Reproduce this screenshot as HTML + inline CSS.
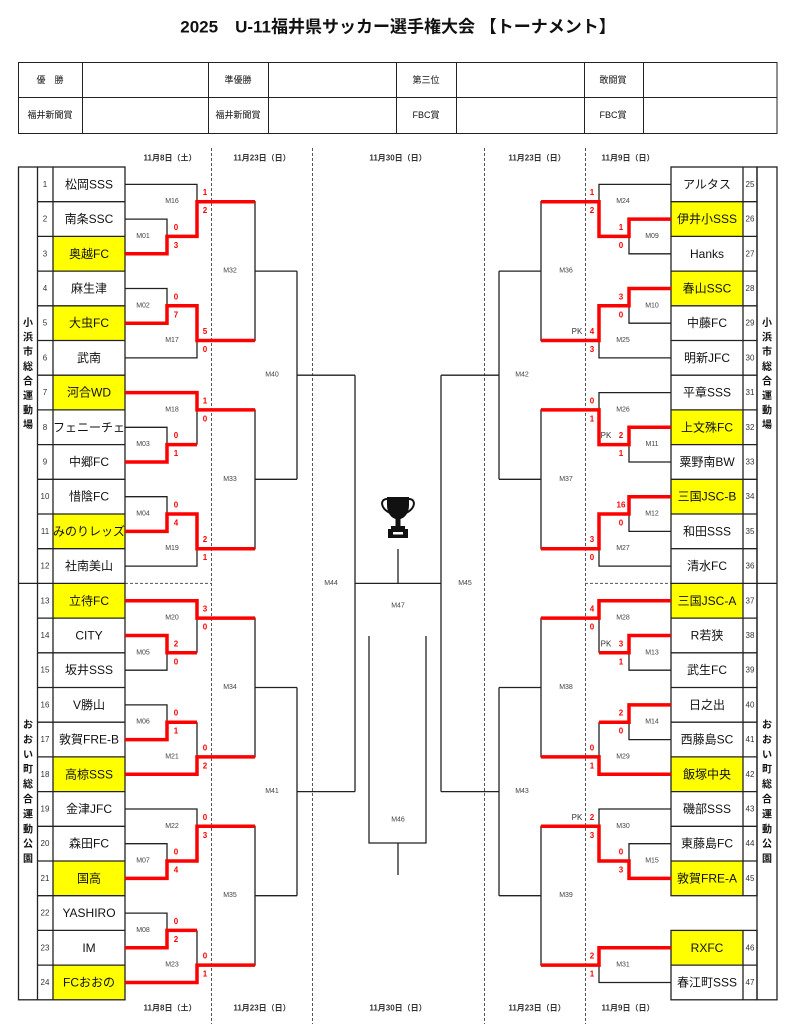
<!DOCTYPE html>
<html><head><meta charset="utf-8"><style>
html,body{margin:0;padding:0;background:#fff;}
svg{display:block;font-family:"Liberation Sans","Noto Sans CJK JP",sans-serif;}
.tm{font-size:12px;fill:#111;text-anchor:middle;dominant-baseline:central;}
.nu{font-size:8px;fill:#333;text-anchor:middle;dominant-baseline:central;}
.sc{font-size:8px;font-weight:bold;fill:#f00;text-anchor:middle;dominant-baseline:central;}
.pk{font-size:8px;fill:#333;text-anchor:middle;dominant-baseline:central;}
.ml{font-size:7px;fill:#444;text-anchor:middle;dominant-baseline:central;}
.dt{font-size:8px;font-weight:bold;fill:#333;text-anchor:middle;dominant-baseline:central;}
.lb{font-size:10px;font-weight:bold;fill:#111;text-anchor:middle;dominant-baseline:central;}
.hd{font-size:9px;fill:#111;text-anchor:middle;dominant-baseline:central;}
</style></head><body>
<svg width="790" height="1024" viewBox="0 0 790 1024" xmlns="http://www.w3.org/2000/svg">
<rect width="790" height="1024" fill="#fff"/>
<text x="398" y="27" font-size="17" font-weight="bold" text-anchor="middle" dominant-baseline="central" fill="#111">2025　U-11福井県サッカー選手権大会 【トーナメント】</text>

<g stroke="#222" stroke-width="1" fill="none">
<rect x="18.5" y="62.5" width="758.5" height="71"/>
<path d="M18.5 97.5H777 M82.5 62.5V133.5 M208.5 62.5V133.5 M268.5 62.5V133.5 M396.5 62.5V133.5 M456.5 62.5V133.5 M584.5 62.5V133.5 M643.5 62.5V133.5"/>
</g>
<text class="hd" x="50" y="80">優　勝</text><text class="hd" x="238" y="80">準優勝</text><text class="hd" x="426" y="80">第三位</text><text class="hd" x="613" y="80">敢闘賞</text>
<text class="hd" x="50" y="115">福井新聞賞</text><text class="hd" x="238" y="115">福井新聞賞</text><text class="hd" x="426" y="115">FBC賞</text><text class="hd" x="613" y="115">FBC賞</text>

<text class="dt" x="170" y="158">11月8日（土）</text><text class="dt" x="262" y="158">11月23日（日）</text><text class="dt" x="398" y="158">11月30日（日）</text><text class="dt" x="537" y="158">11月23日（日）</text><text class="dt" x="628" y="158">11月9日（日）</text>
<text class="dt" x="170" y="1008">11月8日（土）</text><text class="dt" x="262" y="1008">11月23日（日）</text><text class="dt" x="398" y="1008">11月30日（日）</text><text class="dt" x="537" y="1008">11月23日（日）</text><text class="dt" x="628" y="1008">11月9日（日）</text>

<g stroke="#555" stroke-width="1" stroke-dasharray="3,2" fill="none">
<path d="M211.5 148V1024 M312.5 148V1024 M484.5 148V1024 M585.5 148V1024 M125 583.4H211 M585 583.4H671"/>
</g>

<g fill="#ffff00">
<rect x="53" y="236.4" width="72" height="34.7"/><rect x="53" y="305.8" width="72" height="34.7"/><rect x="53" y="375.2" width="72" height="34.7"/><rect x="53" y="514" width="72" height="34.7"/><rect x="53" y="583.4" width="72" height="34.7"/><rect x="53" y="756.9" width="72" height="34.7"/><rect x="53" y="861" width="72" height="34.7"/><rect x="53" y="965.1" width="72" height="34.7"/>
<rect x="671" y="201.7" width="72" height="34.7"/><rect x="671" y="271.1" width="72" height="34.7"/><rect x="671" y="409.9" width="72" height="34.7"/><rect x="671" y="479.3" width="72" height="34.7"/><rect x="671" y="583.4" width="72" height="34.7"/><rect x="671" y="756.9" width="72" height="34.7"/><rect x="671" y="861" width="72" height="34.7"/><rect x="671" y="930.4" width="72" height="34.7"/>
</g>

<g stroke="#222" stroke-width="1.3" fill="none">
<rect x="18.5" y="167" width="106.5" height="832.8"/>
<path d="M37.5 167V999.8 M53 167V999.8 M18.5 583.4H125"/>
<path d="M37.5 201.7H125 M37.5 236.4H125 M37.5 271.1H125 M37.5 305.8H125 M37.5 340.5H125 M37.5 375.2H125 M37.5 409.9H125 M37.5 444.6H125 M37.5 479.3H125 M37.5 514H125 M37.5 548.7H125 M37.5 618.1H125 M37.5 652.8H125 M37.5 687.5H125 M37.5 722.2H125 M37.5 756.9H125 M37.5 791.6H125 M37.5 826.3H125 M37.5 861H125 M37.5 895.7H125 M37.5 930.4H125 M37.5 965.1H125"/>
<rect x="757" y="167" width="20" height="832.8"/>
<rect x="671" y="167" width="86" height="728.7"/>
<rect x="671" y="930.4" width="86" height="69.4"/>
<path d="M743 167V895.7 M743 930.4V999.8 M671 583.4H777"/>
<path d="M671 201.7H757 M671 236.4H757 M671 271.1H757 M671 305.8H757 M671 340.5H757 M671 375.2H757 M671 409.9H757 M671 444.6H757 M671 479.3H757 M671 514H757 M671 548.7H757 M671 618.1H757 M671 652.8H757 M671 687.5H757 M671 722.2H757 M671 756.9H757 M671 791.6H757 M671 826.3H757 M671 861H757 M671 965.1H757"/>
</g>

<text class="lb"><tspan x="28" y="323">小</tspan><tspan x="28" dy="14.6">浜</tspan><tspan x="28" dy="14.6">市</tspan><tspan x="28" dy="14.6">総</tspan><tspan x="28" dy="14.6">合</tspan><tspan x="28" dy="14.6">運</tspan><tspan x="28" dy="14.6">動</tspan><tspan x="28" dy="14.6">場</tspan></text>
<text class="lb"><tspan x="28" y="725">お</tspan><tspan x="28" dy="14.9">お</tspan><tspan x="28" dy="14.9">い</tspan><tspan x="28" dy="14.9">町</tspan><tspan x="28" dy="14.9">総</tspan><tspan x="28" dy="14.9">合</tspan><tspan x="28" dy="14.9">運</tspan><tspan x="28" dy="14.9">動</tspan><tspan x="28" dy="14.9">公</tspan><tspan x="28" dy="14.9">園</tspan></text>
<text class="lb"><tspan x="767" y="323">小</tspan><tspan x="767" dy="14.6">浜</tspan><tspan x="767" dy="14.6">市</tspan><tspan x="767" dy="14.6">総</tspan><tspan x="767" dy="14.6">合</tspan><tspan x="767" dy="14.6">運</tspan><tspan x="767" dy="14.6">動</tspan><tspan x="767" dy="14.6">場</tspan></text>
<text class="lb"><tspan x="767" y="725">お</tspan><tspan x="767" dy="14.9">お</tspan><tspan x="767" dy="14.9">い</tspan><tspan x="767" dy="14.9">町</tspan><tspan x="767" dy="14.9">総</tspan><tspan x="767" dy="14.9">合</tspan><tspan x="767" dy="14.9">運</tspan><tspan x="767" dy="14.9">動</tspan><tspan x="767" dy="14.9">公</tspan><tspan x="767" dy="14.9">園</tspan></text>

<text class="nu" x="45" y="184.4">1</text><text class="tm" x="89" y="184.4">松岡SSS</text>
<text class="nu" x="45" y="219.1">2</text><text class="tm" x="89" y="219.1">南条SSC</text>
<text class="nu" x="45" y="253.8">3</text><text class="tm" x="89" y="253.8">奥越FC</text>
<text class="nu" x="45" y="288.5">4</text><text class="tm" x="89" y="288.5">麻生津</text>
<text class="nu" x="45" y="323.2">5</text><text class="tm" x="89" y="323.2">大虫FC</text>
<text class="nu" x="45" y="357.9">6</text><text class="tm" x="89" y="357.9">武南</text>
<text class="nu" x="45" y="392.6">7</text><text class="tm" x="89" y="392.6">河合WD</text>
<text class="nu" x="45" y="427.3">8</text><text class="tm" x="89" y="427.3" font-size="10.5">フェニーチェ</text>
<text class="nu" x="45" y="462">9</text><text class="tm" x="89" y="462">中郷FC</text>
<text class="nu" x="45" y="496.7">10</text><text class="tm" x="89" y="496.7">惜陰FC</text>
<text class="nu" x="45" y="531.4">11</text><text class="tm" x="89" y="531.4" font-size="10.5">みのりレッズ</text>
<text class="nu" x="45" y="566.1">12</text><text class="tm" x="89" y="566.1">社南美山</text>
<text class="nu" x="45" y="600.8">13</text><text class="tm" x="89" y="600.8">立待FC</text>
<text class="nu" x="45" y="635.5">14</text><text class="tm" x="89" y="635.5">CITY</text>
<text class="nu" x="45" y="670.2">15</text><text class="tm" x="89" y="670.2">坂井SSS</text>
<text class="nu" x="45" y="704.9">16</text><text class="tm" x="89" y="704.9">V勝山</text>
<text class="nu" x="45" y="739.6">17</text><text class="tm" x="89" y="739.6" font-size="11">敦賀FRE-B</text>
<text class="nu" x="45" y="774.3">18</text><text class="tm" x="89" y="774.3">高椋SSS</text>
<text class="nu" x="45" y="809">19</text><text class="tm" x="89" y="809">金津JFC</text>
<text class="nu" x="45" y="843.7">20</text><text class="tm" x="89" y="843.7">森田FC</text>
<text class="nu" x="45" y="878.4">21</text><text class="tm" x="89" y="878.4">国高</text>
<text class="nu" x="45" y="913.1">22</text><text class="tm" x="89" y="913.1">YASHIRO</text>
<text class="nu" x="45" y="947.8">23</text><text class="tm" x="89" y="947.8">IM</text>
<text class="nu" x="45" y="982.5">24</text><text class="tm" x="89" y="982.5">FCおおの</text>

<text class="nu" x="750" y="184.4">25</text><text class="tm" x="707" y="184.4">アルタス</text>
<text class="nu" x="750" y="219.1">26</text><text class="tm" x="707" y="219.1">伊井小SSS</text>
<text class="nu" x="750" y="253.8">27</text><text class="tm" x="707" y="253.8">Hanks</text>
<text class="nu" x="750" y="288.5">28</text><text class="tm" x="707" y="288.5">春山SSC</text>
<text class="nu" x="750" y="323.2">29</text><text class="tm" x="707" y="323.2">中藤FC</text>
<text class="nu" x="750" y="357.9">30</text><text class="tm" x="707" y="357.9">明新JFC</text>
<text class="nu" x="750" y="392.6">31</text><text class="tm" x="707" y="392.6">平章SSS</text>
<text class="nu" x="750" y="427.3">32</text><text class="tm" x="707" y="427.3">上文殊FC</text>
<text class="nu" x="750" y="462">33</text><text class="tm" x="707" y="462">粟野南BW</text>
<text class="nu" x="750" y="496.7">34</text><text class="tm" x="707" y="496.7" font-size="11.5">三国JSC-B</text>
<text class="nu" x="750" y="531.4">35</text><text class="tm" x="707" y="531.4">和田SSS</text>
<text class="nu" x="750" y="566.1">36</text><text class="tm" x="707" y="566.1">清水FC</text>
<text class="nu" x="750" y="600.8">37</text><text class="tm" x="707" y="600.8" font-size="11.5">三国JSC-A</text>
<text class="nu" x="750" y="635.5">38</text><text class="tm" x="707" y="635.5">R若狭</text>
<text class="nu" x="750" y="670.2">39</text><text class="tm" x="707" y="670.2">武生FC</text>
<text class="nu" x="750" y="704.9">40</text><text class="tm" x="707" y="704.9">日之出</text>
<text class="nu" x="750" y="739.6">41</text><text class="tm" x="707" y="739.6">西藤島SC</text>
<text class="nu" x="750" y="774.3">42</text><text class="tm" x="707" y="774.3">飯塚中央</text>
<text class="nu" x="750" y="809">43</text><text class="tm" x="707" y="809">磯部SSS</text>
<text class="nu" x="750" y="843.7">44</text><text class="tm" x="707" y="843.7">東藤島FC</text>
<text class="nu" x="750" y="878.4">45</text><text class="tm" x="707" y="878.4" font-size="11">敦賀FRE-A</text>
<text class="nu" x="750" y="947.8">46</text><text class="tm" x="707" y="947.8">RXFC</text>
<text class="nu" x="750" y="982.5">47</text><text class="tm" x="707" y="982.5">春江町SSS</text>

<defs>
<path id="grp" d="M125 184.4H197V236.4 M125 219.1H167V253.8H125 M167 236.4H197 M125 288.5H167V323.2H125 M167 305.8H197 M125 357.9H197V305.8 M197 201.7H255V340.5H197 M255 271.1H297" fill="none" stroke="#222" stroke-width="1.3"/>
</defs>
<use href="#grp"/>
<use href="#grp" transform="translate(0,208.2)"/>
<use href="#grp" transform="translate(0,416.4)"/>
<use href="#grp" transform="translate(0,624.6)"/>
<use href="#grp" transform="translate(796,0) scale(-1,1)"/>
<use href="#grp" transform="translate(796,208.2) scale(-1,1)"/>
<use href="#grp" transform="translate(796,416.4) scale(-1,1)"/>
<g fill="none" stroke="#222" stroke-width="1.3">
<path d="M671 809H599V861 M671 843.7H629V878.4H671 M629 861H599 M599 826.3H541V965.1H599 M671 947.8H599V982.5H671 M541 895.7H499"/>
<path d="M297 271.1V479.3 M297 375.2H355 M297 687.5V895.7 M297 791.6H355 M355 375.2V791.6 M355 583.4H441"/>
<path d="M499 271.1V479.3 M499 375.2H441 M499 687.5V895.7 M499 791.6H441 M441 375.2V791.6"/>
<path d="M398 549V583.4 M369 636V843H426V636 M398 843V875"/>
</g>

<g fill="none" stroke="#ff0000" stroke-width="3.5" stroke-linejoin="miter">
<path d="M125 253.8H167V236.4H197V201.7H255"/>
<path d="M125 323.2H167V305.8H197V340.5H255"/>
<path d="M125 392.6H197V409.9H255"/>
<path d="M125 462H167V444.6H197"/>
<path d="M125 531.4H167V514H197V548.7H255"/>
<path d="M125 600.8H197V618.1H255"/>
<path d="M125 635.5H167V652.8H197"/>
<path d="M125 739.6H167V722.2H197"/>
<path d="M125 774.3H197V756.9H255"/>
<path d="M125 878.4H167V861H197V826.3H255"/>
<path d="M125 947.8H167V930.4H197"/>
<path d="M125 982.5H197V965.1H255"/>
<path d="M671 219.1H629V236.4H599V201.7H541"/>
<path d="M671 288.5H629V305.8H599V340.5H541"/>
<path d="M671 427.3H629V444.6H599V409.9H541"/>
<path d="M671 496.7H629V514H599V548.7H541"/>
<path d="M671 600.8H599V618.1H541"/>
<path d="M671 635.5H629V652.8H599"/>
<path d="M671 704.9H629V722.2H599"/>
<path d="M671 774.3H599V756.9H541"/>
<path d="M671 878.4H629V861H599V826.3H541"/>
<path d="M671 947.8H599V965.1H541"/>
</g>

<g fill="#111">
<path d="M387 497H409V505C409 514 404 518 400.5 519V526H405V529H391V526H395.5V519C392 518 387 514 387 505Z"/>
<path d="M387 499C380 499 380 508 390 513" fill="none" stroke="#111" stroke-width="2"/>
<path d="M409 499C416 499 416 508 406 513" fill="none" stroke="#111" stroke-width="2"/>
<rect x="388" y="529" width="20" height="9"/>
<rect x="393" y="532" width="10" height="2.5" fill="#fff"/>
</g>

<g>
<text class="ml" x="143" y="236.4">M01</text><text class="ml" x="143" y="305.8">M02</text><text class="ml" x="172" y="201.7">M16</text><text class="ml" x="172" y="340.5">M17</text><text class="ml" x="230" y="271.1">M32</text>
<text class="ml" x="143" y="444.6">M03</text><text class="ml" x="143" y="514">M04</text><text class="ml" x="172" y="409.9">M18</text><text class="ml" x="172" y="548.7">M19</text><text class="ml" x="230" y="479.3">M33</text>
<text class="ml" x="143" y="652.8">M05</text><text class="ml" x="143" y="722.2">M06</text><text class="ml" x="172" y="618.1">M20</text><text class="ml" x="172" y="756.9">M21</text><text class="ml" x="230" y="687.5">M34</text>
<text class="ml" x="143" y="861">M07</text><text class="ml" x="143" y="930.4">M08</text><text class="ml" x="172" y="826.3">M22</text><text class="ml" x="172" y="965.1">M23</text><text class="ml" x="230" y="895.7">M35</text>
<text class="ml" x="272" y="375.2">M40</text><text class="ml" x="272" y="791.6">M41</text><text class="ml" x="331" y="583.4">M44</text>
<text class="ml" x="465" y="583.4">M45</text><text class="ml" x="398" y="606">M47</text><text class="ml" x="398" y="820">M46</text>
<text class="ml" x="652" y="236.4">M09</text><text class="ml" x="652" y="305.8">M10</text><text class="ml" x="623" y="201.7">M24</text><text class="ml" x="623" y="340.5">M25</text><text class="ml" x="566" y="271.1">M36</text>
<text class="ml" x="652" y="444.6">M11</text><text class="ml" x="652" y="514">M12</text><text class="ml" x="623" y="409.9">M26</text><text class="ml" x="623" y="548.7">M27</text><text class="ml" x="566" y="479.3">M37</text>
<text class="ml" x="652" y="652.8">M13</text><text class="ml" x="652" y="722.2">M14</text><text class="ml" x="623" y="618.1">M28</text><text class="ml" x="623" y="756.9">M29</text><text class="ml" x="566" y="687.5">M38</text>
<text class="ml" x="652" y="861">M15</text><text class="ml" x="623" y="826.3">M30</text><text class="ml" x="623" y="965.1">M31</text><text class="ml" x="566" y="895.7">M39</text>
<text class="ml" x="522" y="375.2">M42</text><text class="ml" x="522" y="791.6">M43</text>
</g>

<text class="sc" x="176" y="227.4">0</text><text class="sc" x="176" y="245.4">3</text>
<text class="sc" x="205" y="192.7">1</text><text class="sc" x="205" y="210.7">2</text>
<text class="sc" x="176" y="296.8">0</text><text class="sc" x="176" y="314.8">7</text>
<text class="sc" x="205" y="331.5">5</text><text class="sc" x="205" y="349.5">0</text>
<text class="sc" x="176" y="435.6">0</text><text class="sc" x="176" y="453.6">1</text>
<text class="sc" x="205" y="400.9">1</text><text class="sc" x="205" y="418.9">0</text>
<text class="sc" x="176" y="505">0</text><text class="sc" x="176" y="523">4</text>
<text class="sc" x="205" y="539.7">2</text><text class="sc" x="205" y="557.7">1</text>
<text class="sc" x="176" y="643.8">2</text><text class="sc" x="176" y="661.8">0</text>
<text class="sc" x="205" y="609.1">3</text><text class="sc" x="205" y="627.1">0</text>
<text class="sc" x="176" y="713.2">0</text><text class="sc" x="176" y="731.2">1</text>
<text class="sc" x="205" y="747.9">0</text><text class="sc" x="205" y="765.9">2</text>
<text class="sc" x="176" y="852">0</text><text class="sc" x="176" y="870">4</text>
<text class="sc" x="205" y="817.3">0</text><text class="sc" x="205" y="835.3">3</text>
<text class="sc" x="176" y="921.4">0</text><text class="sc" x="176" y="939.4">2</text>
<text class="sc" x="205" y="956.1">0</text><text class="sc" x="205" y="974.1">1</text>

<text class="sc" x="621" y="227.4">1</text><text class="sc" x="621" y="245.4">0</text>
<text class="sc" x="592" y="192.7">1</text><text class="sc" x="592" y="210.7">2</text>
<text class="sc" x="621" y="296.8">3</text><text class="sc" x="621" y="314.8">0</text>
<text class="pk" x="577" y="331.5">PK</text><text class="sc" x="592" y="331.5">4</text><text class="sc" x="592" y="349.5">3</text>
<text class="pk" x="606" y="435.6">PK</text><text class="sc" x="621" y="435.6">2</text><text class="sc" x="621" y="453.6">1</text>
<text class="sc" x="592" y="400.9">0</text><text class="sc" x="592" y="418.9">1</text>
<text class="sc" x="621" y="505">16</text><text class="sc" x="621" y="523">0</text>
<text class="sc" x="592" y="539.7">3</text><text class="sc" x="592" y="557.7">0</text>
<text class="pk" x="606" y="643.8">PK</text><text class="sc" x="621" y="643.8">3</text><text class="sc" x="621" y="661.8">1</text>
<text class="sc" x="592" y="609.1">4</text><text class="sc" x="592" y="627.1">0</text>
<text class="sc" x="621" y="713.2">2</text><text class="sc" x="621" y="731.2">0</text>
<text class="sc" x="592" y="747.9">0</text><text class="sc" x="592" y="765.9">1</text>
<text class="sc" x="621" y="852">0</text><text class="sc" x="621" y="870">3</text>
<text class="pk" x="577" y="817.3">PK</text><text class="sc" x="592" y="817.3">2</text><text class="sc" x="592" y="835.3">3</text>
<text class="sc" x="592" y="956.1">2</text><text class="sc" x="592" y="974.1">1</text>
</svg>
</body></html>
